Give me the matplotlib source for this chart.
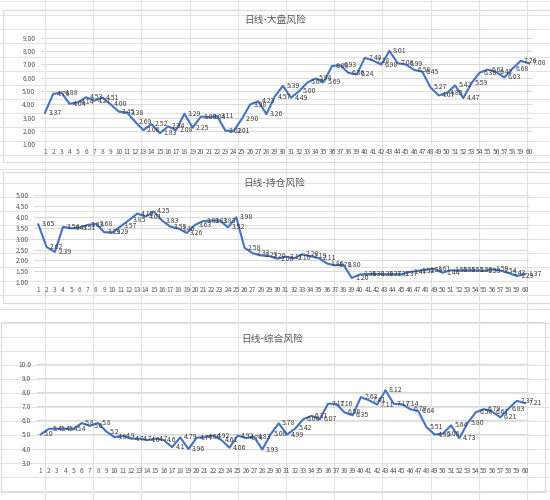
import numpy as np
import matplotlib.pyplot as plt
from matplotlib.patches import Rectangle
from matplotlib.ticker import FormatStrFormatter

plt.rcParams['font.family'] = ['Noto Sans CJK SC', 'DejaVu Sans']

# data
days = list(range(1, 61))

market_risk = [3.37, 4.78, 4.88, 4.04, 4.14, 4.53, 4.27, 4.51, 4.00, 3.45,
               3.38, 2.69, 2.06, 2.52, 1.83, 2.34, 2.08, 3.29, 2.25, 3.08,
               3.04, 3.11, 2.02, 2.01, 2.90, 3.98, 4.23, 3.26, 4.57, 5.39,
               4.49, 5.00, 5.64, 5.94, 5.69, 6.88, 6.93, 6.36, 6.24, 7.49,
               7.28, 6.98, 8.01, 7.08, 6.99, 6.58, 6.45, 5.27, 4.67, 4.85,
               5.42, 4.47, 5.59, 6.38, 6.61, 6.42, 6.03, 6.68, 7.26, 7.08]

position_risk = [3.65, 2.62, 2.39, 3.54, 3.47, 3.51, 3.63, 3.68, 3.29, 3.29,
                 3.57, 3.85, 4.15, 4.01, 4.25, 3.83, 3.55, 3.46, 3.26, 3.63,
                 3.81, 3.83, 3.83, 3.52, 3.98, 2.58, 2.33, 2.23, 2.20, 2.08,
                 2.17, 2.10, 2.28, 2.19, 2.11, 1.86, 1.78, 1.80, 1.20, 1.36,
                 1.38, 1.38, 1.37, 1.37, 1.37, 1.47, 1.52, 1.58, 1.61, 1.44,
                 1.55, 1.55, 1.55, 1.55, 1.53, 1.59, 1.54, 1.43, 1.29, 1.37]

overall_risk = [5.0, 5.4, 5.4, 5.4, 5.4, 5.8, 5.6, 5.8, 5.2, 4.8,
                4.9, 4.7, 4.7, 4.6, 4.7, 4.6, 4.1, 4.79, 3.96, 4.77,
                4.80, 4.92, 4.61, 4.06, 4.92, 4.74, 4.83, 3.93, 5.00, 5.78,
                4.99, 5.42, 6.08, 6.31, 6.07, 7.17, 7.16, 6.56, 6.35, 7.63,
                7.41, 7.11, 8.12, 7.17, 7.14, 6.79, 6.64, 5.51, 4.99, 5.06,
                5.64, 4.73, 5.80, 6.56, 6.79, 6.61, 6.21, 6.83, 7.37, 7.21]

titles = ['日线-大盘风险', '日线-持仓风险', '日线-综合风险']

W, H = 550, 500
fig = plt.figure(figsize=(5.5, 5), dpi=100)

# spreadsheet grid behind the charts
bg = fig.add_axes([0, 0, 1, 1])
bg.set_xlim(0, W)
bg.set_ylim(H, 0)
bg.axis('off')
for x in np.arange(45, W, 48.2):
    bg.axvline(x, color='#e3e3e3', lw=0.8)
for y in np.arange(1, H, 14):
    bg.axhline(y, color='#e3e3e3', lw=0.8)

# chart frames
for (x, y, w, h) in [(3, 10, 548, 152), (3, 172, 548, 131), (1, 322, 544, 170)]:
    bg.add_patch(Rectangle((x, y), w, h, facecolor='white', edgecolor='#d9d9d9', lw=0.8))


def panel(vals, x0, x1, ytop, ybot, ylo, yhi, step, yfmt, labels, title, tx, ty):
    ax = fig.add_axes([x0 / W, 1 - ybot / H, (x1 - x0) / W, (ybot - ytop) / H])
    ax.set_facecolor('none')
    ax.plot(days, vals, color='#4472C4', lw=1.5, solid_joinstyle='round', zorder=3)
    for d, v, s in zip(days, vals, labels):
        ax.annotate(s, (d, v), xytext=(2.5, 0), textcoords='offset points',
                    ha='left', va='center', fontsize=5, color='#404040', zorder=4)
    ax.set_xlim(0.5, 60.5)
    ax.set_ylim(ylo, yhi)
    ax.set_yticks(np.arange(ylo, yhi + step / 2, step))
    ax.yaxis.set_major_formatter(FormatStrFormatter(yfmt))
    ax.set_xticks(days)
    ax.tick_params(length=0, labelsize=4.8, colors='#595959')
    ax.tick_params(axis='x', pad=3)
    ax.tick_params(axis='y', pad=4)
    ax.grid(axis='y', color='#d9d9d9', lw=0.7)
    ax.set_axisbelow(True)
    for sp in ax.spines.values():
        sp.set_visible(False)
    fig.text(tx / W, 1 - ty / H, title, ha='center', va='center', fontsize=7, color='#595959')
    return ax


panel(market_risk, 40.9, 533, 37.7, 144.3, 1, 9, 1, '%.2f',
      ['%.2f' % v for v in market_risk], titles[0], 275, 20)
panel(position_risk, 34.2, 529.1, 195, 282.3, 1, 5, 0.5, '%.2f',
      ['%.2f' % v for v in position_risk], titles[1], 274, 183)
panel(overall_risk, 36.6, 529.1, 363.7, 462.7, 3, 10, 1, '%.1f',
      [('%.1f' if i < 17 else '%.2f') % v for i, v in enumerate(overall_risk)],
      titles[2], 272, 339)

fig.savefig('out.png', dpi=100)
